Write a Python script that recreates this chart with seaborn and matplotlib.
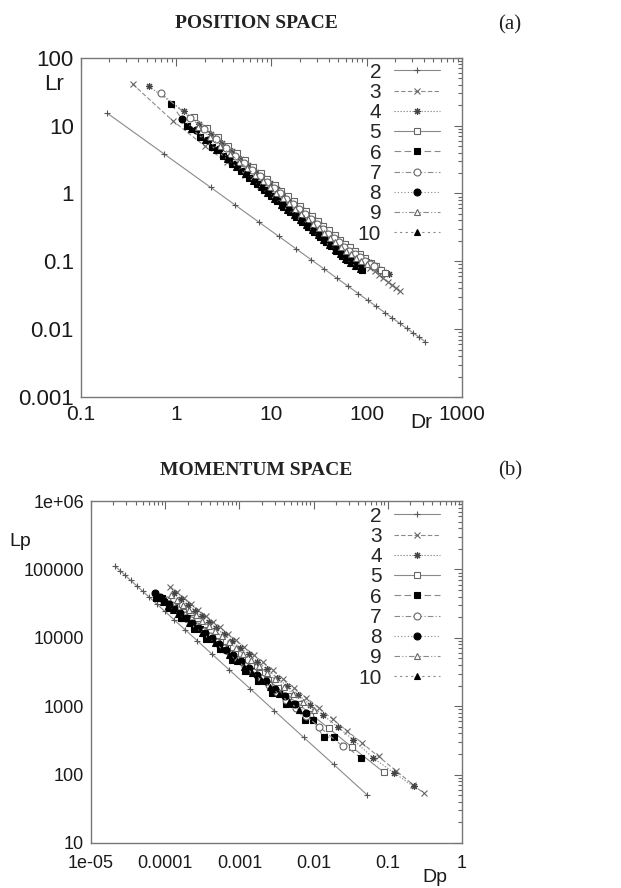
import matplotlib
matplotlib.use("Agg")
import matplotlib.pyplot as plt
from matplotlib.ticker import NullFormatter, LogLocator
import seaborn as sns

# ---------------- (a) position space: Dr -> Lr ----------------
pos_x2 = [0.19, 0.75, 2.3, 4.2, 7.4, 12, 18, 26, 36, 49, 64, 82, 102, 126, 155, 186, 223, 263, 309, 356, 410]
pos_y2 = [15.2, 3.81, 1.23, 0.669, 0.377, 0.232, 0.154, 0.106, 0.0764, 0.0559, 0.0427, 0.0333, 0.0267,
          0.0216, 0.0175, 0.01454, 0.0121, 0.01025, 0.00871, 0.00755, 0.00655]
pos_x3 = [0.35, 0.92, 2.0, 3.4, 5.3, 7.6, 10.4, 13.6, 17.3, 21.5, 26, 31, 37, 43, 50, 58, 66, 75, 85, 96,
          108, 121, 135, 150, 166, 184, 203, 223]
pos_y3 = [41, 11.8, 5.0, 2.9, 1.85, 1.27, 0.92, 0.70, 0.55, 0.44, 0.36, 0.30, 0.25, 0.21, 0.18, 0.155,
          0.135, 0.118, 0.103, 0.091, 0.080, 0.071, 0.063, 0.056, 0.050, 0.045, 0.040, 0.036]
pos_x4 = [0.52, 1.2, 1.75, 2.35, 3.05, 3.85, 4.75, 5.75, 6.9, 8.2, 9.7, 11.4, 13.3, 15.4, 17.9, 20.8, 24,
          27.7, 32, 37, 42.5, 48.5, 55.5, 63, 72, 82, 93, 106, 120, 136, 153, 170]
pos_y4 = [37.7, 16.4, 10.5, 7.44, 5.47, 4.16, 3.24, 2.59, 2.09, 1.70, 1.40, 1.15, 0.96, 0.81, 0.68, 0.568,
          0.48, 0.405, 0.342, 0.288, 0.244, 0.209, 0.178, 0.156, 0.138, 0.123, 0.11, 0.0978, 0.0875,
          0.078, 0.07, 0.064]
pos_x5 = [1.55, 2.1, 2.75, 3.5, 4.35, 5.3, 6.4, 7.7, 9.1, 10.8, 12.7, 14.8, 17.2, 20, 23, 26.5, 30.5, 35,
          40, 46, 52, 59, 67, 76, 86, 97, 110, 124, 140, 155]
pos_y5 = [13.2, 9.2, 6.7, 5.04, 3.9, 3.09, 2.47, 1.99, 1.63, 1.33, 1.10, 0.92, 0.77, 0.644, 0.546, 0.462,
          0.392, 0.333, 0.284, 0.241, 0.209, 0.18, 0.16, 0.143, 0.128, 0.112, 0.095, 0.084, 0.074, 0.066]
pos_x6 = [0.88, 1.3, 1.8, 2.4, 3.1, 3.9, 4.8, 5.8, 7.0, 8.3, 9.8, 11.5, 13.4, 15.5, 18, 21, 24, 28, 32,
          37, 42, 48, 55, 62, 70, 80, 90]
pos_y6 = [21, 10.0, 6.8, 4.84, 3.58, 2.73, 2.14, 1.71, 1.37, 1.12, 0.92, 0.76, 0.64, 0.535, 0.45, 0.374,
          0.32, 0.266, 0.228, 0.192, 0.166, 0.141, 0.12, 0.106, 0.094, 0.084, 0.0755]
pos_x7 = [0.70, 1.4, 1.95, 2.6, 3.35, 4.2, 5.2, 6.3, 7.6, 9.0, 10.6, 12.4, 14.4, 16.7, 19.4, 22.5, 26, 30,
          34.5, 39.5, 45, 51, 58, 66, 75, 85, 96, 108, 120]
pos_y7 = [29.8, 13.1, 8.9, 6.33, 4.69, 3.6, 2.79, 2.23, 1.79, 1.46, 1.21, 1.0, 0.84, 0.705, 0.591, 0.496,
          0.418, 0.353, 0.30, 0.255, 0.219, 0.189, 0.162, 0.1435, 0.128, 0.114, 0.1025, 0.0922, 0.0838]
pos_x8 = [1.15, 1.6, 2.15, 2.8, 3.55, 4.4, 5.4, 6.5, 7.8, 9.3, 11, 12.9, 15, 17.5, 20.3, 23.5, 27, 31,
          35.5, 40.5, 46, 52, 59, 67, 76, 86]
pos_y8 = [12.7, 8.6, 6.06, 4.44, 3.36, 2.60, 2.04, 1.64, 1.32, 1.08, 0.88, 0.73, 0.61, 0.51, 0.43, 0.36,
          0.306, 0.26, 0.222, 0.19, 0.163, 0.141, 0.122, 0.108, 0.0967, 0.0866]
pos_x9 = [1.7, 2.25, 2.9, 3.7, 4.6, 5.6, 6.75, 8.1, 9.6, 11.3, 13.2, 15.3, 17.8, 20.7, 24, 27.5, 31.5,
          36, 41, 47, 53.5, 61, 69, 78, 88, 100]
pos_y9 = [9.55, 6.86, 5.08, 3.81, 2.95, 2.34, 1.87, 1.51, 1.24, 1.02, 0.85, 0.714, 0.597, 0.50, 0.42,
          0.357, 0.305, 0.26, 0.223, 0.19, 0.163, 0.1407, 0.126, 0.113, 0.101, 0.090]
pos_x10 = [1.45, 2.0, 2.65, 3.4, 4.3, 5.3, 6.4, 7.7, 9.1, 10.7, 12.6, 14.7, 17.1, 19.8, 23, 26.5, 30.5,
           35, 40, 46, 52, 59, 67, 76, 86]
pos_y10 = [9.0, 6.1, 4.36, 3.22, 2.46, 1.92, 1.54, 1.23, 1.01, 0.83, 0.685, 0.572, 0.482, 0.404, 0.337,
           0.288, 0.24, 0.205, 0.173, 0.149, 0.127, 0.108, 0.095, 0.085, 0.076]

# ---------------- (b) momentum space: Dp -> Lp ----------------
mom_x2 = [2.11e-5, 2.46e-5, 2.88e-5, 3.43e-5, 4.13e-5, 4.98e-5, 6.12e-5, 7.69e-5, 9.96e-5, 1.33e-4,
          1.85e-4, 2.72e-4, 4.28e-4, 7.34e-4, 1.40e-3, 2.97e-3, 7.31e-3, 0.0186, 0.0524]
mom_y2 = [112000, 96200, 82400, 69300, 57700, 48100, 39200, 31300, 24300, 18200, 13200, 9030, 5770,
          3390, 1800, 855, 352, 141, 50.7]
mom_x3 = [1.16e-4, 1.45e-4, 1.8e-4, 2.25e-4, 2.8e-4, 3.5e-4, 4.4e-4, 5.5e-4, 7e-4, 9e-4, 1.17e-3,
          1.55e-3, 2.05e-3, 2.8e-3, 3.9e-3, 5.5e-3, 8e-3, 0.0118, 0.018, 0.028, 0.045, 0.075, 0.13,
          0.22, 0.304]
mom_y3 = [56100, 46100, 38000, 31200, 25700, 21100, 17300, 14200, 11500, 9170, 7270, 5670, 4430, 3360,
          2510, 1850, 1330, 943, 649, 439, 289, 184, 113, 71, 53.3]
mom_x4 = [1.3e-4, 1.62e-4, 2.0e-4, 2.5e-4, 3.1e-4, 3.9e-4, 4.9e-4, 6.2e-4, 7.9e-4, 1.02e-3, 1.33e-3,
          1.75e-3, 2.35e-3, 3.2e-3, 4.4e-3, 6.2e-3, 9e-3, 0.0135, 0.021, 0.034, 0.064, 0.12, 0.223]
mom_y4 = [44600, 36800, 30500, 25100, 20700, 16900, 13800, 11200, 9070, 7220, 5710, 4480, 3460, 2630,
          1980, 1470, 1055, 737, 499, 325, 174, 107, 67]
mom_x5 = [1.4e-4, 1.75e-4, 2.2e-4, 2.75e-4, 3.45e-4, 4.3e-4, 5.4e-4, 6.8e-4, 8.6e-4, 1.1e-3, 1.42e-3,
          1.85e-3, 2.45e-3, 3.3e-3, 4.5e-3, 6.3e-3, 9e-3, 0.0159, 0.0328, 0.0877]
mom_y5 = [28600, 23600, 19400, 16000, 13100, 10800, 8910, 7300, 5950, 4810, 3850, 3070, 2410, 1860,
          1420, 1060, 782, 478, 253, 109]
mom_x6 = [7.6e-5, 9.0e-5, 1.12e-4, 1.32e-4, 1.65e-4, 1.95e-4, 2.45e-4, 2.9e-4, 3.6e-4, 4.3e-4, 5.4e-4,
          6.4e-4, 8.0e-4, 9.6e-4, 1.2e-3, 1.45e-3, 1.8e-3, 2.2e-3, 2.75e-3, 3.4e-3, 4.3e-3, 5.3e-3,
          7.7e-3, 9.8e-3, 0.0136, 0.0186, 0.0439]
mom_y6 = [38000, 38000, 27100, 27100, 19200, 19200, 13600, 13600, 9650, 9650, 6770, 6770, 4760, 4760,
          3320, 3320, 2310, 2310, 1580, 1580, 1070, 1070, 632, 632, 353, 353, 174]
mom_x7 = [1.05e-4, 1.25e-4, 1.5e-4, 1.82e-4, 2.2e-4, 2.7e-4, 3.3e-4, 4.05e-4, 5e-4, 6.2e-4, 7.7e-4,
          9.6e-4, 1.2e-3, 1.52e-3, 1.95e-3, 2.5e-3, 3.25e-3, 4.3e-3, 5.8e-3, 8e-3, 0.0118, 0.0248]
mom_y7 = [35300, 30200, 25600, 21500, 18200, 15100, 12600, 10500, 8670, 7140, 5880, 4820, 3940, 3190,
          2550, 2040, 1610, 1250, 955, 715, 504, 258]
mom_x8 = [7.3e-5, 8.4e-5, 9.7e-5, 1.13e-4, 1.33e-4, 1.58e-4, 1.9e-4, 2.3e-4, 2.8e-4, 3.45e-4, 4.25e-4,
          5.3e-4, 6.6e-4, 8.3e-4, 1.05e-3, 1.35e-3, 1.75e-3, 2.3e-3, 3.05e-3, 4.1e-3, 5.6e-3, 7.8e-3]
mom_y8 = [44800, 39700, 35100, 30800, 26700, 23000, 19700, 16700, 14100, 11800, 9840, 8140, 6740, 5530,
          4520, 3640, 2910, 2300, 1810, 1400, 1070, 806]
mom_x9 = [1.2e-4, 1.45e-4, 1.75e-4, 2.12e-4, 2.58e-4, 3.15e-4, 3.85e-4, 4.7e-4, 5.8e-4, 7.2e-4, 9e-4,
          1.13e-3, 1.43e-3, 1.83e-3, 2.35e-3, 3.05e-3, 4e-3, 5.3e-3, 7.2e-3, 0.01]
mom_y9 = [41700, 35300, 30000, 25400, 21300, 17900, 15000, 12600, 10500, 8690, 7150, 5860, 4770, 3840,
          3090, 2460, 1940, 1520, 1160, 869]
mom_x10 = [8.0e-5, 9.3e-5, 1.08e-4, 1.26e-4, 1.48e-4, 1.75e-4, 2.1e-4, 2.55e-4, 3.1e-4, 3.8e-4, 4.7e-4,
           5.85e-4, 7.3e-4, 9.2e-4, 1.17e-3, 1.5e-3, 1.95e-3, 2.55e-3, 3.4e-3, 4.6e-3, 6.3e-3]
mom_y10 = [38000, 33400, 29400, 25700, 22400, 19400, 16600, 14000, 11900, 9950, 8300, 6870, 5680, 4650,
           3780, 3060, 2440, 1940, 1510, 1170, 890]

labels = ["2", "3", "4", "5", "6", "7", "8", "9", "10"]
pos_series = [(pos_x2, pos_y2), (pos_x3, pos_y3), (pos_x4, pos_y4), (pos_x5, pos_y5), (pos_x6, pos_y6),
              (pos_x7, pos_y7), (pos_x8, pos_y8), (pos_x9, pos_y9), (pos_x10, pos_y10)]
mom_series = [(mom_x2, mom_y2), (mom_x3, mom_y3), (mom_x4, mom_y4), (mom_x5, mom_y5), (mom_x6, mom_y6),
              (mom_x7, mom_y7), (mom_x8, mom_y8), (mom_x9, mom_y9), (mom_x10, mom_y10)]

pos_xticks = [0.1, 1, 10, 100, 1000]
pos_xticklabels = ["0.1", "1", "10", "100", "1000"]
pos_yticks = [0.001, 0.01, 0.1, 1, 10, 100]
pos_yticklabels = ["0.001", "0.01", "0.1", "1", "10", "100"]
mom_xticks = [1e-5, 1e-4, 1e-3, 1e-2, 1e-1, 1]
mom_xticklabels = ["1e-05", "0.0001", "0.001", "0.01", "0.1", "1"]
mom_yticks = [10, 100, 1000, 10000, 100000, 1000000]
mom_yticklabels = ["10", "100", "1000", "10000", "100000", "1e+06"]

# gnuplot-like monochrome styles
styles = {
    "2": dict(linestyle="-", marker="+", markerfacecolor="none", markeredgecolor="#555555", markersize=5),
    "3": dict(linestyle=(0, (4, 2)), marker="x", markerfacecolor="none", markeredgecolor="#666666", markersize=4.5),
    "4": dict(linestyle=(0, (1.2, 1.5)), marker=(8, 2, 0), markerfacecolor="none", markeredgecolor="#444444", markersize=5),
    "5": dict(linestyle="-", marker="s", markerfacecolor="white", markeredgecolor="#666666", markersize=5),
    "6": dict(linestyle=(0, (6, 3)), marker="s", markerfacecolor="black", markeredgecolor="black", markersize=5),
    "7": dict(linestyle=(0, (5, 2, 1, 2)), marker="o", markerfacecolor="white", markeredgecolor="#666666", markersize=5),
    "8": dict(linestyle=(0, (1, 2)), marker="o", markerfacecolor="black", markeredgecolor="black", markersize=5),
    "9": dict(linestyle=(0, (5, 2, 1, 2, 1, 2)), marker="^", markerfacecolor="white", markeredgecolor="#666666", markersize=5),
    "10": dict(linestyle=(0, (2, 3)), marker="^", markerfacecolor="black", markeredgecolor="black", markersize=5),
}

sns.set_style("white")
plt.rcParams["font.family"] = ["Liberation Sans", "DejaVu Sans"]

fig = plt.figure(figsize=(6.21, 8.88), dpi=100)
ax1 = fig.add_axes([0.130, 0.553, 0.614, 0.382])
ax2 = fig.add_axes([0.1465, 0.0507, 0.5975, 0.385])


def draw_panel(ax, series, xticks, xlabels, yticks, ylabels, xlim, ylim, legend_anchor, xsize, ysize, xpad):
    for lab, (xs, ys) in zip(labels, series):
        st = styles[lab]
        sns.lineplot(x=xs, y=ys, ax=ax, sort=False, estimator=None, color="#8a8a8a", lw=0.8,
                     markeredgewidth=0.8, label=lab, **st)
    ax.set_xscale("log")
    ax.set_yscale("log")
    ax.set_xlim(*xlim)
    ax.set_ylim(*ylim)
    ax.set_xticks(xticks)
    ax.set_xticklabels(xlabels)
    ax.set_yticks(yticks)
    ax.set_yticklabels(ylabels)
    ax.xaxis.set_minor_locator(LogLocator(base=10, subs=range(2, 10), numticks=20))
    ax.yaxis.set_minor_locator(LogLocator(base=10, subs=range(2, 10), numticks=20))
    ax.xaxis.set_minor_formatter(NullFormatter())
    ax.yaxis.set_minor_formatter(NullFormatter())
    ax.tick_params(which="both", direction="in", top=True, right=True, color="#666666",
                   labelcolor="#1a1a1a", width=0.8)
    ax.tick_params(which="major", length=6)
    ax.tick_params(which="minor", length=3)
    ax.tick_params(axis="y", which="major", pad=5, labelsize=ysize)
    ax.tick_params(axis="x", which="major", pad=xpad, labelsize=xsize)
    for sp in ax.spines.values():
        sp.set_color("#777777")
        sp.set_linewidth(1.0)
    ax.set_xlabel("")
    ax.set_ylabel("")
    leg = ax.legend(loc="upper right", bbox_to_anchor=legend_anchor, frameon=False, markerfirst=False,
                    fontsize=15, handlelength=2.2, handletextpad=0.6, labelspacing=0.06,
                    borderaxespad=0.0, numpoints=1)
    return leg


draw_panel(ax1, pos_series, pos_xticks, pos_xticklabels, pos_yticks, pos_yticklabels,
           (0.1, 1000), (0.001, 100), (0.963, 1.01), 15, 16, 6)
draw_panel(ax2, mom_series, mom_xticks, mom_xticklabels, mom_yticks, mom_yticklabels,
           (1e-5, 1), (10, 1e6), (0.963, 1.008), 13, 13, 9)

serif = ["Liberation Serif", "DejaVu Serif"]
fig.text(256 / 621, 1 - 23 / 888, "POSITION SPACE", family=serif, weight="bold", fontsize=14,
         ha="center", va="center", color="#222222")
fig.text(510 / 621, 1 - 25 / 888, "(a)", family=serif, fontsize=15, ha="center", va="center", color="#222222")
fig.text(256 / 621, 1 - 470 / 888, "MOMENTUM SPACE", family=serif, weight="bold", fontsize=14,
         ha="center", va="center", color="#222222")
fig.text(510 / 621, 1 - 471 / 888, "(b)", family=serif, fontsize=15, ha="center", va="center", color="#222222")

fig.text(54 / 621, 1 - 85 / 888, "Lr", fontsize=16, ha="center", va="center", color="#1a1a1a")
fig.text(421 / 621, 1 - 423 / 888, "Dr", fontsize=15, ha="center", va="center", color="#1a1a1a")
fig.text(20 / 621, 1 - 541 / 888, "Lp", fontsize=14, ha="center", va="center", color="#1a1a1a")
fig.text(435 / 621, 1 - 877 / 888, "Dp", fontsize=14, ha="center", va="center", color="#1a1a1a")

fig.savefig("out.png", dpi=100, facecolor="white")
